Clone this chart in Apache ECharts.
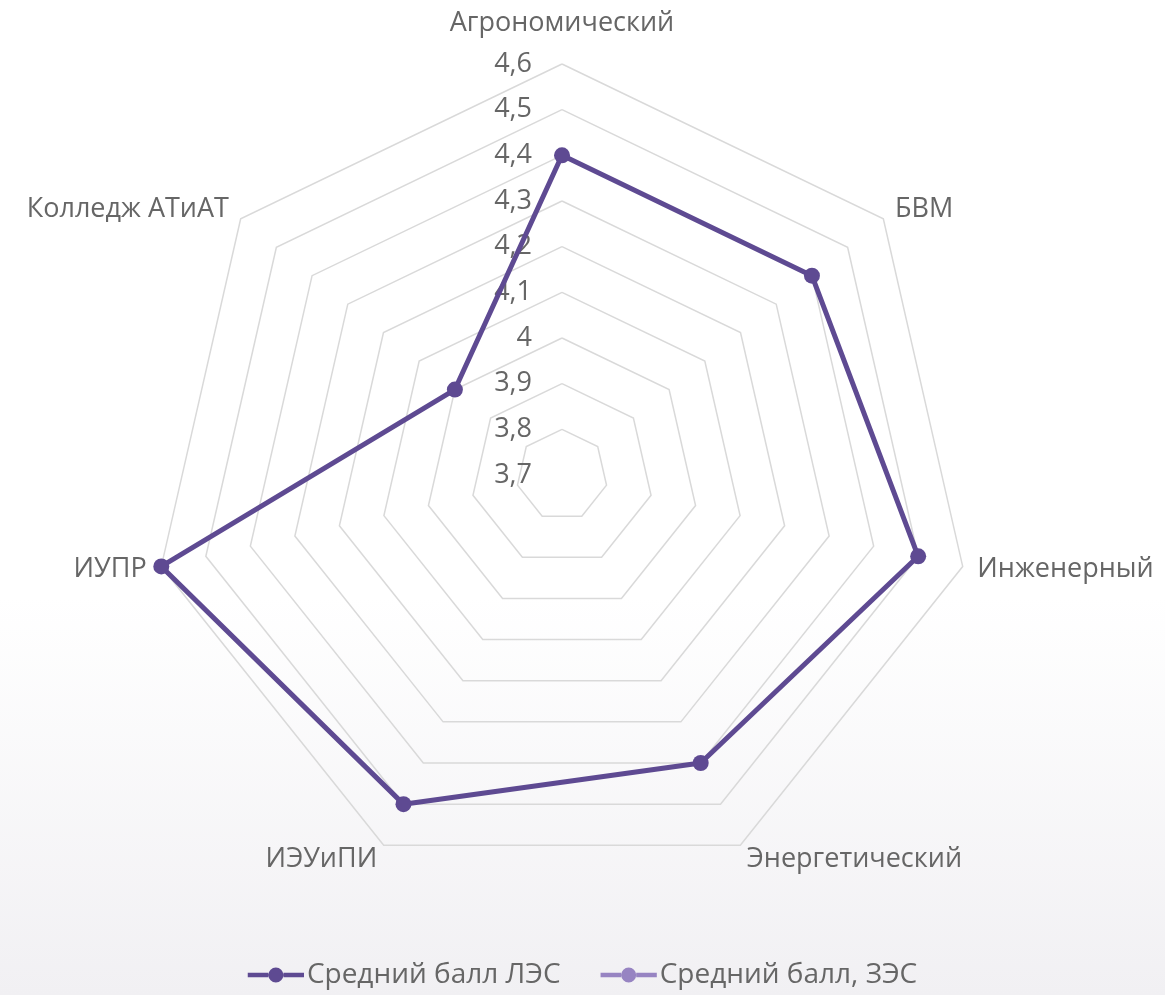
<!DOCTYPE html>
<html>
<head>
<meta charset="utf-8">
<script src="https://cdn.jsdelivr.net/npm/echarts@6/dist/echarts.min.js"></script>
<style>
html,body{margin:0;padding:0;background:#fff;}
#chart{width:1165px;height:995px;}
</style>
</head>
<body>
<div id="chart"></div>
<script>
const categories = ['Агрономический','БВМ','Инженерный','Энергетический','ИЭУиПИ','ИУПР','Колледж АТиАТ'];
const seriesNames = ['Средний балл ЛЭС','Средний балл, ЗЭС'];
const valuesLES = [4.4, 4.4, 4.5, 4.4, 4.5, 4.6, 4.0];
const valuesZES = [];
const axisMin = 3.7;
const axisMax = 4.6;

const FONT = 'Open Sans';
const TEXT = '#666666';
const C1 = '#5e4a92';
const C2 = '#9784c2';

// ECharts lays radar axes out counter-clockwise; reorder so categories run clockwise from the top.
const order = [0].concat(categories.map((_, i) => i).slice(1).reverse());
const cats = order.map(i => categories[i]);
const les = order.map(i => valuesLES[i]);
const zes = order.map(i => valuesZES[i]).filter(v => v !== undefined);

const chart = echarts.init(document.getElementById('chart'));
const legendIcon = 'path://M0,4.5L22,4.5L22,9.5L0,9.5Z M38,4.5L60,4.5L60,9.5L38,9.5Z M22,7A8,8 0 1 1 38,7A8,8 0 1 1 22,7Z';

chart.setOption({
  backgroundColor: {
    type: 'linear', x: 0, y: 0, x2: 0, y2: 1,
    colorStops: [
      {offset: 0, color: '#ffffff'},
      {offset: 0.6, color: '#ffffff'},
      {offset: 1, color: '#f1f0f3'}
    ]
  },
  legend: {
    bottom: 1,
    left: 'center',
    itemWidth: 60,
    itemHeight: 15,
    itemGap: 40,
    data: [
      {name: seriesNames[0], icon: legendIcon, itemStyle: {color: C1}},
      {name: seriesNames[1], icon: legendIcon, itemStyle: {color: C2}}
    ],
    textStyle: {color: TEXT, fontSize: 28, fontFamily: FONT, padding: [0,0,0,-4]}
  },
  radar: {
    center: [562, 475],
    radius: 411,
    startAngle: 90,
    shape: 'polygon',
    splitNumber: 9,
    nameGap: 15,
    indicator: cats.map((c, i) => ({
      name: c, min: axisMin, max: axisMax,
      axisLabel: i === 0 ? {
        show: true, color: TEXT, fontSize: 27, fontFamily: FONT, margin: 30,
        formatter: v => String(+(+v).toFixed(1)).replace('.', ',')
      } : {show: false}
    })),
    axisName: {
      color: TEXT, fontSize: 27, fontFamily: FONT,
      formatter: (name) => name === categories[0] ? '{t|' + name + '}' : name,
      rich: {
        t: {color: TEXT, fontSize: 27, fontFamily: FONT, padding: [0, 0, 12, 0]}
      }
    },
    axisLine: {show: false},
    axisTick: {show: false},
    axisLabel: {show: false},
    splitArea: {show: false},
    splitLine: {lineStyle: {color: '#d9d9d9', width: 1.5}}
  },
  series: [
    {
      type: 'radar',
      name: seriesNames[0],
      symbol: 'circle',
      symbolSize: 16,
      lineStyle: {color: C1, width: 5},
      itemStyle: {color: C1},
      data: [{name: seriesNames[0], value: les}]
    },
    {
      type: 'radar',
      name: seriesNames[1],
      symbol: 'none',
      lineStyle: {color: C2, width: 5},
      itemStyle: {color: C2},
      data: [{name: seriesNames[1], value: zes}]
    }
  ]
});
</script>
</body>
</html>
